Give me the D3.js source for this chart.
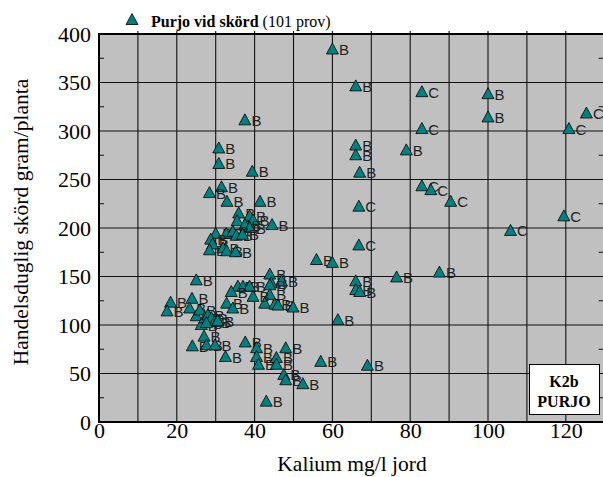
<!DOCTYPE html>
<html>
<head>
<meta charset="utf-8">
<script src="https://cdn.jsdelivr.net/npm/d3@7"></script>
<style>
  body { margin: 0; background: #fff; }
  svg { display: block; }
</style>
</head>
<body>
<svg width="603" height="477"></svg>
<script>
// Kalium (mg/l jord), skörd (g/planta) and the class letter per sample
const kalium = [60, 66, 37.5, 83, 83, 100, 100, 125.3, 120.8, 30.8,
  30.8, 39.4, 66, 66, 79, 67, 83, 85.3, 66.8, 90.4,
  119.5, 105.8, 66.8, 31.5, 28.4, 32.9, 41.4, 44.5, 35.9, 35.5,
  38.7, 39.6, 37.5, 38.7, 30, 32.7, 34.4, 35.3, 36.9, 28.7,
  29.2, 28.4, 31.9, 32.8, 35.1, 55.9, 60, 66, 66, 67,
  76.5, 87.5, 25, 43.9, 44.3, 46.9, 43.9, 43.9, 18.4, 17.5,
  23.9, 23.3, 25, 25.9, 26.3, 27, 24, 27.6, 32.5, 37.6,
  40.5, 40.5, 41, 43, 42.6, 45.2, 46, 49.9, 61.4, 48,
  45.6, 45.6, 47.5, 48, 52.4, 57, 69, 32.8, 34.4, 35.7,
  37, 38.7, 34, 39.6, 27.2, 28, 28.9, 29.7, 27.6, 30.5,
  29.8]
const skord = [384, 346, 311, 340, 302, 338, 314, 318, 302, 282,
  266, 258, 285, 275, 280, 257, 243, 239, 222, 227,
  212, 197, 182, 242, 236, 227, 227, 203, 215, 207,
  212, 208, 203, 200, 194, 194, 196, 192, 193, 188,
  183, 177, 179, 176, 175, 167, 164, 145, 136, 134,
  149, 154, 146, 152, 143, 145, 141, 131, 123, 114,
  127, 117, 109, 115, 100, 88, 78, 79, 67, 82,
  76, 67, 59, 21, 122, 121, 120, 118, 105, 76,
  66, 59, 48.5, 43, 39, 62, 58, 122, 117, 139.5,
  139.5, 139.5, 134, 129, 107, 110, 107, 103, 102, 104,
  79]
const klass = ['B', 'B', 'B', 'C', 'C', 'B', 'B', 'C', 'C', 'B',
  'B', 'B', 'B', 'B', 'B', 'B', 'C', 'C', 'C', 'C',
  'C', 'C', 'C', 'B', 'B', 'B', 'B', 'B', 'B', 'B',
  'B', 'B', 'B', 'B', 'B', 'B', 'B', 'B', 'B', 'B',
  'B', 'B', 'B', 'B', 'B', 'B', 'B', 'B', 'B', 'B',
  'B', 'B', 'B', 'B', 'B', 'B', 'B', 'B', 'B', 'B',
  'B', 'B', 'B', 'B', 'B', 'B', 'B', 'B', 'B', 'B',
  'B', 'B', 'B', 'B', 'B', 'B', 'B', 'B', 'B', 'B',
  'B', 'B', 'B', 'B', 'B', 'B', 'B', 'B', 'B', 'B',
  'B', 'B', 'B', 'B', 'B', 'B', 'B', 'B', 'B', 'B',
  'B']

const xTicks = [0, 20, 40, 60, 80, 100, 120]
const yTicks = [0, 50, 100, 150, 200, 250, 300, 350, 400]

const svg = d3.select('svg')
const serif = '"Liberation Serif", "Times New Roman", serif'

const x = d3.scaleLinear().domain([0, 130]).range([99, 604.7])
const y = d3.scaleLinear().domain([0, 400]).range([422, 34])

const data = kalium.map((k, i) => ({k: k, s: skord[i], c: klass[i]}))

// plot background
svg.append('rect')
  .attr('x', x(0)).attr('y', y(400))
  .attr('width', x(130) - x(0)).attr('height', y(0) - y(400))
  .attr('fill', '#c0c0c0')

// grid lines
svg.append('g')
  .selectAll('line')
  .data(d3.range(10, 130, 10))
  .enter()
  .append('line')
  .attr('x1', d => x(d)).attr('x2', d => x(d))
  .attr('y1', y(400) - 3).attr('y2', y(0))
  .attr('stroke', '#111').attr('stroke-width', 1.1)
svg.append('g')
  .selectAll('line')
  .data(d3.range(50, 400, 50))
  .enter()
  .append('line')
  .attr('x1', x(0)).attr('x2', x(130))
  .attr('y1', d => y(d)).attr('y2', d => y(d))
  .attr('stroke', '#111').attr('stroke-width', 1.1)

// minor ticks on left and right sides
const minor = d3.range(25, 400, 50)
svg.append('g')
  .selectAll('line')
  .data(minor)
  .enter()
  .append('line')
  .attr('x1', x(0)).attr('x2', x(0) + 5)
  .attr('y1', d => y(d)).attr('y2', d => y(d))
  .attr('stroke', '#111')
svg.append('g')
  .selectAll('line')
  .data(minor)
  .enter()
  .append('line')
  .attr('x1', x(130)).attr('x2', x(130) - 6)
  .attr('y1', d => y(d)).attr('y2', d => y(d))
  .attr('stroke', '#111')

// frame
svg.append('rect')
  .attr('x', x(0)).attr('y', y(400))
  .attr('width', x(130) - x(0)).attr('height', y(0) - y(400))
  .attr('fill', 'none').attr('stroke', '#000').attr('stroke-width', 2)

// axis labels via d3 axes (lines hidden, only text kept)
const xAxis = svg.append('g')
  .attr('transform', 'translate(0,' + y(0) + ')')
  .call(d3.axisBottom(x).tickValues(xTicks).tickSize(0).tickPadding(0))
xAxis.select('.domain').remove()
xAxis.selectAll('text')
  .attr('font-family', serif).attr('font-size', 22).attr('fill', '#000')

const yAxis = svg.append('g')
  .attr('transform', 'translate(' + x(0) + ',0)')
  .call(d3.axisLeft(y).tickValues(yTicks).tickSize(0).tickPadding(8))
yAxis.select('.domain').remove()
yAxis.selectAll('text')
  .attr('font-family', serif).attr('font-size', 22).attr('fill', '#000')

svg.append('text')
  .attr('x', 352).attr('y', 471)
  .attr('text-anchor', 'middle')
  .attr('font-family', serif).attr('font-size', 21.5)
  .text('Kalium mg/l jord')

svg.append('text')
  .attr('transform', 'translate(28,' + 222 + ') rotate(-90)')
  .attr('text-anchor', 'middle')
  .attr('font-family', serif).attr('font-size', 21.5)
  .text('Handelsduglig skörd gram/planta')

// points
const tri = 'M0,-6.5L6,4.5L-6,4.5Z'
const pts = svg.append('g')
  .selectAll('g')
  .data(data)
  .enter()
  .append('g')
  .attr('transform', d => 'translate(' + x(d.k) + ',' + y(d.s) + ')')
pts.append('path')
  .attr('d', tri)
  .attr('fill', '#008080').attr('stroke', '#000').attr('stroke-width', 0.8)
pts.append('text')
  .attr('x', 6.5).attr('y', 5.5)
  .attr('font-family', '"Liberation Sans", Arial, sans-serif').attr('font-size', 15)
  .attr('fill', '#222')
  .text(d => d.c)

// legend
svg.append('path')
  .attr('d', tri)
  .attr('transform', 'translate(132,20)')
  .attr('fill', '#008080').attr('stroke', '#000').attr('stroke-width', 0.8)
const leg = svg.append('text')
  .attr('x', 151).attr('y', 27)
  .attr('font-family', serif).attr('font-size', 16)
leg.append('tspan').attr('font-weight', 'bold').text('Purjo vid skörd')
leg.append('tspan').text(' (101 prov)')

// tag box
svg.append('rect')
  .attr('x', 529.5).attr('y', 364.5).attr('width', 70).attr('height', 50)
  .attr('fill', '#fff').attr('stroke', '#000').attr('stroke-width', 1)
svg.append('text')
  .attr('x', 564).attr('y', 387).attr('text-anchor', 'middle')
  .attr('font-family', serif).attr('font-size', 16).attr('font-weight', 'bold')
  .text('K2b')
svg.append('text')
  .attr('x', 564).attr('y', 407).attr('text-anchor', 'middle')
  .attr('font-family', serif).attr('font-size', 16).attr('font-weight', 'bold')
  .text('PURJO')
</script>
</body>
</html>
